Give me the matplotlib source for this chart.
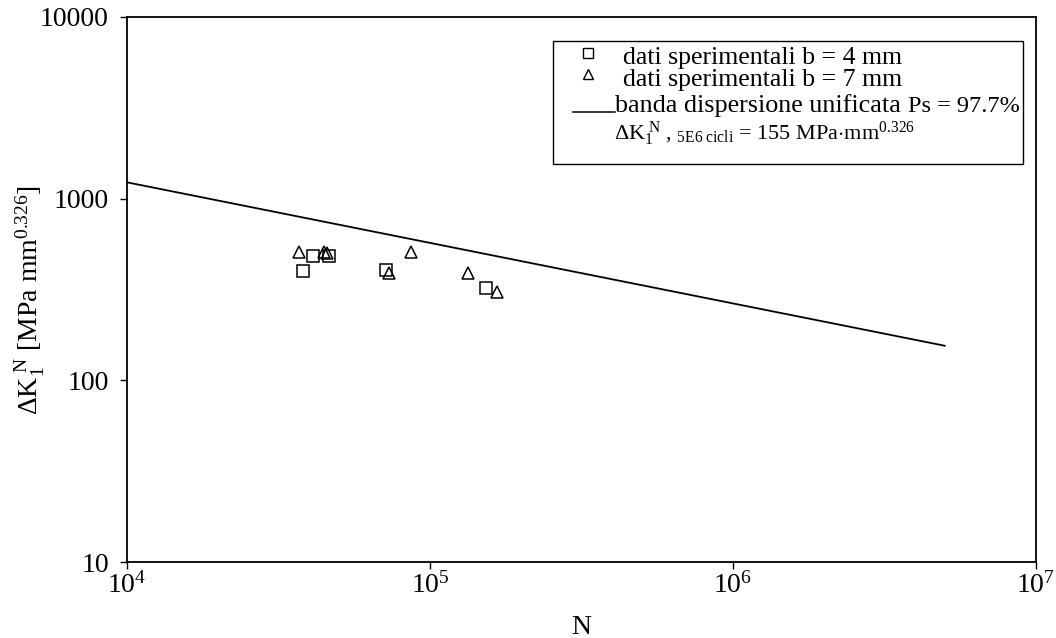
import numpy as np
from matplotlib import pyplot as plt
from matplotlib.patches import Rectangle
from matplotlib.ticker import LogLocator, NullLocator

plt.rcParams['font.family'] = ['Liberation Serif', 'DejaVu Serif']
plt.rcParams['mathtext.fontset'] = 'custom'
plt.rcParams['mathtext.rm'] = 'Liberation Serif'
plt.rcParams['mathtext.it'] = 'Liberation Serif:italic'
plt.rcParams['mathtext.bf'] = 'Liberation Serif:bold'

# dati sperimentali b = 4 mm
N_b4 = [38100, 41100, 46400, 71600, 153000]
dK_b4 = [400, 484, 484, 405, 323]

# dati sperimentali b = 7 mm
N_b7 = [36960, 44700, 45700, 73300, 86500, 133400, 166400]
dK_b7 = [509, 509, 503, 390, 509, 390, 307]

# banda dispersione unificata (Ps = 97.7%)
N_band = [1e4, 5e6]
dK_band = [1230, 155]

W, H = 1056, 638
fig = plt.figure(figsize=(W / 100, H / 100), dpi=100)
ax = fig.add_axes([127 / W, 1 - 562 / H, 909 / W, 545 / H])

ax.plot(N_band, dK_band, 'k-', lw=1.3)
ax.plot(N_b4, dK_b4, 's', mfc='none', mec='k', ms=8, mew=1.1, ls='none')
ax.plot(N_b7, dK_b7, '^', mfc='none', mec='k', ms=8.5, mew=1.1, ls='none')

ax.set_xscale('log')
ax.set_yscale('log')
ax.set_xlim(1e4, 1e7)
ax.set_ylim(10, 10000)
ax.xaxis.set_major_locator(LogLocator(base=10, numticks=10))
ax.xaxis.set_minor_locator(NullLocator())
ax.yaxis.set_minor_locator(NullLocator())
ax.set_yticks([10, 100, 1000, 10000])
ax.set_yticklabels(['10', '100', '1000', '10000'])
ax.tick_params(direction='out', length=5, width=1, labelsize=20)
ax.tick_params(axis='y', pad=8)
ax.tick_params(axis='x', pad=2)
for s in ax.spines.values():
    s.set_linewidth(1.3)

ax.set_xlabel('N', fontsize=20, labelpad=12)
ax.set_ylabel(r'$\Delta\mathrm{K}_1^{\ \mathrm{N}}$ [MPa mm$^{0.326}$]', fontsize=20)
ax.yaxis.set_label_coords(-0.088, 0.48)


def fx(x):
    return x / W


def fy(y):
    return 1 - y / H


# legenda disegnata a mano
fig.patches.append(Rectangle((fx(553), fy(164)), fx(1023) - fx(553), (164 - 41) / H,
                             transform=fig.transFigure, fill=False, ec='k', lw=1))
fig.lines.append(plt.Line2D([fx(588)], [fy(53)], marker='s', mfc='none', mec='k',
                            ms=6.5, mew=1, transform=fig.transFigure))
fig.lines.append(plt.Line2D([fx(588)], [fy(74)], marker='^', mfc='none', mec='k',
                            ms=6.5, mew=1, transform=fig.transFigure))
fig.lines.append(plt.Line2D([fx(573), fx(615)], [fy(112), fy(112)], color='k', lw=1.1,
                            transform=fig.transFigure))
fig.text(fx(623), fy(64), 'dati sperimentali b = 4 mm', fontsize=18.6, va='baseline')
fig.text(fx(623), fy(86), 'dati sperimentali b = 7 mm', fontsize=18.6, va='baseline')
fig.text(fx(615), fy(112), 'banda dispersione unificata', fontsize=18.8, va='baseline')
fig.text(fx(1020), fy(112), 'Ps = 97.7%', fontsize=17.5, va='baseline', ha='right')
fig.text(fx(614), fy(140),
         r'$\Delta\mathrm{K}_1^{\ \mathrm{N}}$ , $_{\mathrm{5E6\ cicli}}$ = 155 MPa$\cdot$mm$^{0.326}$',
         fontsize=16, va='baseline')

fig.savefig('out.png', dpi=100)
